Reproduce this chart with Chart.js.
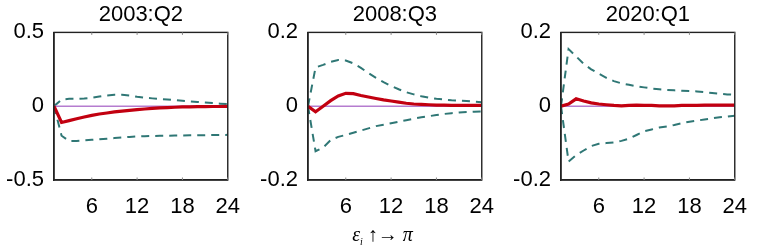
<!DOCTYPE html>
<html>
<head>
<meta charset="utf-8">
<script src="https://cdn.jsdelivr.net/npm/chart.js@4.4.1/dist/chart.umd.min.js"></script>
<style>
  html, body { margin: 0; padding: 0; background: #fff; }
  body { width: 765px; height: 251px; position: relative; overflow: hidden; }
  .pane { position: absolute; top: 0; width: 254px; height: 230px; }
  #xlab { position: absolute; left: 0; width: 765px; top: 223px; text-align: center;
          font-family: "Liberation Serif", "DejaVu Serif", serif; font-size: 20px; color: #000; }
  #xlab .it { font-style: italic; }
  #xlab sub { font-size: 10px; font-style: italic; vertical-align: -4px; }
</style>
</head>
<body>
<div class="pane" style="left:0px"><canvas id="c1" width="254" height="230"></canvas></div>
<div class="pane" style="left:254px"><canvas id="c2" width="254" height="230"></canvas></div>
<div class="pane" style="left:507px"><canvas id="c3" width="254" height="230"></canvas></div>
<div id="xlab"><span class="it">ε</span><sub>i</sub> ↑→ <span class="it">π</span></div>
<script>
// Horizons 1..24
const horizons = [1,2,3,4,5,6,7,8,9,10,11,12,13,14,15,16,17,18,19,20,21,22,23,24];
const xTicks = [6, 12, 18, 24];

const titles = ["2003:Q2", "2008:Q3", "2020:Q1"];
const yTicks1 = [-0.5, 0, 0.5];
const yTicks2 = [-0.2, 0, 0.2];
const yTicks3 = [-0.2, 0, 0.2];

// Panel 1: 2003:Q2
const median1 = [0, -0.11, -0.098, -0.085, -0.073, -0.062, -0.053, -0.046, -0.039, -0.033, -0.028, -0.023, -0.019, -0.015, -0.012, -0.009, -0.007, -0.005, -0.004, -0.003, -0.003, -0.002, -0.002, -0.001];
const upper1  = [0, 0.045, 0.05, 0.05, 0.052, 0.057, 0.065, 0.073, 0.077, 0.077, 0.072, 0.064, 0.058, 0.053, 0.049, 0.045, 0.041, 0.037, 0.033, 0.029, 0.025, 0.021, 0.017, 0.014];
const lower1  = [0, -0.2, -0.236, -0.235, -0.232, -0.228, -0.224, -0.22, -0.216, -0.212, -0.208, -0.205, -0.203, -0.202, -0.201, -0.2, -0.199, -0.198, -0.197, -0.196, -0.196, -0.195, -0.195, -0.194];

// Panel 2: 2008:Q3
const median2 = [0, -0.015, 0.0, 0.015, 0.028, 0.035, 0.034, 0.029, 0.025, 0.021, 0.017, 0.014, 0.011, 0.008, 0.006, 0.005, 0.004, 0.003, 0.003, 0.002, 0.002, 0.002, 0.002, 0.002];
const upper2  = [0, 0.105, 0.112, 0.12, 0.125, 0.124, 0.116, 0.104, 0.09, 0.077, 0.065, 0.055, 0.046, 0.038, 0.032, 0.027, 0.023, 0.02, 0.018, 0.016, 0.015, 0.014, 0.012, 0.011];
const lower2  = [0, -0.122, -0.112, -0.092, -0.083, -0.078, -0.072, -0.066, -0.06, -0.054, -0.05, -0.046, -0.042, -0.038, -0.034, -0.03, -0.027, -0.024, -0.021, -0.019, -0.017, -0.016, -0.015, -0.014];

// Panel 3: 2020:Q1
const median3 = [0, 0.006, 0.02, 0.014, 0.009, 0.006, 0.004, 0.002, 0.001, 0.002, 0.003, 0.002, 0.002, 0.001, 0.001, 0.001, 0.002, 0.002, 0.002, 0.003, 0.003, 0.003, 0.003, 0.003];
const upper3  = [0, 0.155, 0.135, 0.115, 0.1, 0.088, 0.077, 0.068, 0.062, 0.058, 0.054, 0.051, 0.048, 0.046, 0.044, 0.043, 0.042, 0.041, 0.04, 0.038, 0.036, 0.034, 0.032, 0.031];
const lower3  = [0, -0.15, -0.133, -0.12, -0.108, -0.102, -0.1, -0.098, -0.094, -0.088, -0.078, -0.068, -0.063, -0.058, -0.055, -0.051, -0.046, -0.042, -0.039, -0.036, -0.033, -0.03, -0.028, -0.026];
const zeroLine = [0,0,0,0,0,0,0,0,0,0,0,0,0,0,0,0,0,0,0,0,0,0,0,0];

const FONT = "'Liberation Sans', Arial, sans-serif";

const boxFramePlugin = {
  id: 'boxFrame',
  afterDatasetsDraw(chart) {
    const ctx = chart.ctx;
    const a = chart.chartArea;
    const sx = chart.scales.x;
    ctx.save();
    ctx.strokeStyle = '#222222';
    ctx.lineWidth = 1.4;
    ctx.setLineDash([]);
    ctx.strokeRect(a.left, a.top, a.right - a.left, a.bottom - a.top);
    ctx.lineWidth = 1;
    ctx.strokeStyle = '#888888';
    for (const v of xTicks) {
      const px = sx.getPixelForValue(v);
      ctx.beginPath(); ctx.moveTo(px, a.bottom); ctx.lineTo(px, a.bottom - 2.5); ctx.stroke();
      ctx.beginPath(); ctx.moveTo(px, a.top); ctx.lineTo(px, a.top + 2.5); ctx.stroke();
    }
    ctx.restore();
  }
};

function toPts(arr) { return arr.map((v, i) => ({x: horizons[i], y: v})); }

function makeChart(id, title, yTicks, med, up, lo) {
  const yMin = yTicks[0], yMax = yTicks[yTicks.length - 1];
  return new Chart(document.getElementById(id), {
    type: 'line',
    data: {
      datasets: [
        {data: toPts(med), borderColor: '#c20010', borderWidth: 3.2, order: 0},
        {data: toPts(zeroLine), borderColor: '#b57ccf', borderWidth: 1.5, order: 1},
        {data: toPts(up), borderColor: '#2f7775', borderWidth: 2, borderDash: [8, 6], order: 2},
        {data: toPts(lo), borderColor: '#2f7775', borderWidth: 2, borderDash: [8, 6], order: 2}
      ]
    },
    plugins: [boxFramePlugin],
    options: {
      responsive: false,
      animation: false,
      devicePixelRatio: 1,
      layout: {padding: {left: 0, right: 12, top: 0, bottom: 0}},
      elements: {point: {radius: 0}, line: {tension: 0, borderCapStyle: 'butt'}},
      plugins: {
        legend: {display: false},
        tooltip: {enabled: false},
        title: {display: true, text: title, color: '#000', fullSize: false,
                font: {family: FONT, size: 22, weight: 'normal', lineHeight: 1.2},
                padding: {top: 2, bottom: 4}}
      },
      scales: {
        x: {
          type: 'linear', min: 1, max: 24,
          grid: {display: true, drawOnChartArea: false, drawTicks: false, color: 'rgba(0,0,0,0)'},
          border: {display: true, color: '#222222', width: 1.4},
          afterBuildTicks: s => { s.ticks = xTicks.map(v => ({value: v})); },
          afterFit: s => { s.height = 50; },
          ticks: {color: '#000', padding: 14, maxRotation: 0, autoSkip: false,
                  font: {family: FONT, size: 22}, callback: v => String(v)}
        },
        y: {
          type: 'linear', min: yMin, max: yMax,
          grid: {display: true, drawOnChartArea: false, drawTicks: false, color: 'rgba(0,0,0,0)'},
          border: {display: true, color: '#222222', width: 1.4},
          afterBuildTicks: s => { s.ticks = yTicks.map(v => ({value: v})); },
          afterFit: s => { s.width = 54; },
          ticks: {color: '#000', padding: 10, autoSkip: false,
                  font: {family: FONT, size: 22}, callback: v => String(v)}
        }
      }
    }
  });
}

makeChart('c1', titles[0], yTicks1, median1, upper1, lower1);
makeChart('c2', titles[1], yTicks2, median2, upper2, lower2);
makeChart('c3', titles[2], yTicks3, median3, upper3, lower3);
</script>
</body>
</html>
